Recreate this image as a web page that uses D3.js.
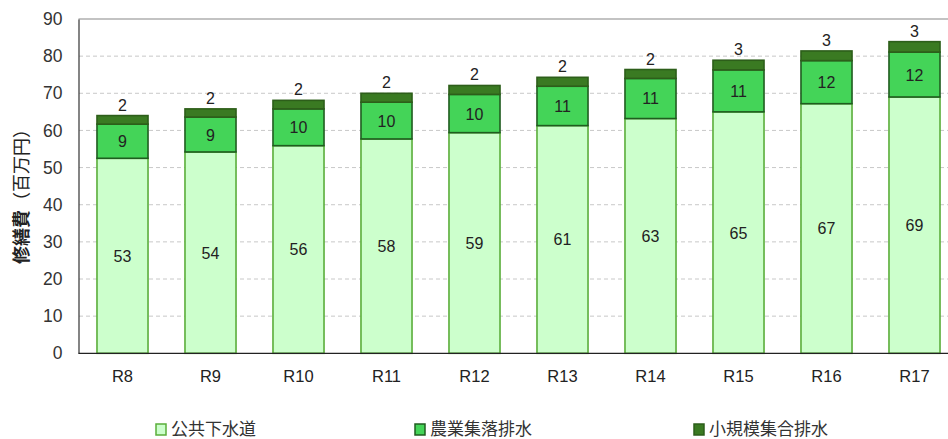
<!DOCTYPE html>
<html><head><meta charset="utf-8">
<script src="https://cdn.jsdelivr.net/npm/d3@7"></script>
<style>body{margin:0;background:#fff;} svg{display:block;font-family:"Liberation Sans",Arial,sans-serif;}</style>
</head><body>
<script>
const categories = ["R8","R9","R10","R11","R12","R13","R14","R15","R16","R17"];
const publicSewer = [52.5,54.2,55.9,57.7,59.4,61.3,63.2,65.0,67.2,69.0];
const ruralDrain = [9.2,9.4,9.9,9.9,10.3,10.6,10.8,11.3,11.6,12.1];
const smallDrain = [2.3,2.2,2.3,2.4,2.4,2.4,2.4,2.6,2.6,2.8];
const seriesNames = ["公共下水道","農業集落排水","小規模集合排水"];
const yTicks = [0,10,20,30,40,50,60,70,80,90];
const fills = ["#ccffcc","#44d458","#3a7a22"];
const strokes = ["#5aae3a","#1f5c1f","#2d5e1a"];

const W=948,H=439;
const svg=d3.select("body").append("svg").attr("width",W).attr("height",H);
const x=d3.scaleBand().domain(categories).range([78.5,958.5]).paddingInner(0.42).paddingOuter(0.21);
const y=d3.scaleLinear().domain([0,90]).range([353.3,19]);

// grid
svg.append("g").selectAll("line").data(yTicks.filter(t=>t>0&&t<90)).join("line")
 .attr("x1",79).attr("x2",W).attr("y1",d=>y(d)).attr("y2",d=>y(d))
 .attr("stroke","#c8c8c8").attr("stroke-dasharray","4,3");
svg.append("line").attr("x1",78.5).attr("x2",W).attr("y1",y(90)).attr("y2",y(90)).attr("stroke","#888").attr("stroke-width",1.2);

const rows=categories.map((c,i)=>({c,vals:[publicSewer[i],ruralDrain[i],smallDrain[i]]}));
const stack=d3.stack().keys([0,1,2]).value((d,k)=>d.vals[k])(rows);

stack.forEach((layer,k)=>{
  svg.append("g").selectAll("rect").data(layer).join("rect")
   .attr("x",d=>x(d.data.c)).attr("width",x.bandwidth())
   .attr("y",d=>y(d[1])).attr("height",d=>y(d[0])-y(d[1]))
   .attr("fill",fills[k]).attr("stroke",strokes[k]).attr("stroke-width",1.6);
});
// labels
stack.forEach((layer,k)=>{
  svg.append("g").selectAll("text").data(layer).join("text")
   .attr("x",d=>x(d.data.c)+x.bandwidth()/2)
   .attr("y",d=> k<2 ? (y(d[0])+y(d[1]))/2+6 : y(d[1])-5)
   .attr("text-anchor","middle").attr("font-size",16).attr("fill","#222")
   .text(d=>Math.round(d[1]-d[0]));
});

// axes
const ya=svg.append("g").attr("transform","translate(78.5,0)")
 .call(d3.axisLeft(y).tickValues(yTicks).tickSize(0).tickPadding(16));
ya.select(".domain").attr("stroke","#333").attr("stroke-width",1.2);
ya.selectAll("text").attr("font-size",17.5).attr("fill","#333").attr("font-family","'Liberation Sans',Arial,sans-serif");
const xa=svg.append("g").attr("transform","translate(0,353.3)")
 .call(d3.axisBottom(x).tickSize(0).tickPadding(17));
xa.select(".domain").attr("stroke","#222").attr("stroke-width",1.3).attr("d","M78.5,0H"+W);
xa.selectAll("text").attr("font-size",16.5).attr("fill","#222").attr("font-family","'Liberation Sans Narrow','Liberation Sans',Arial,sans-serif");

// y title
const yt=svg.append("text").attr("transform","translate(28,192) rotate(-90)").attr("text-anchor","middle")
 .attr("font-size",18).attr("fill","#222").attr("font-family","'Noto Sans CJK JP',sans-serif");
yt.append("tspan").attr("font-weight","bold").text("修繕費");
yt.append("tspan").text("（百万円）");

// legend
const lx=[156,415,694];
seriesNames.forEach((n,k)=>{
  const g=svg.append("g").attr("transform",`translate(${lx[k]},429)`);
  g.append("rect").attr("x",0).attr("y",-5).attr("width",10).attr("height",11)
   .attr("fill",fills[k]).attr("stroke",strokes[k]).attr("stroke-width",1.5);
  g.append("text").attr("x",15).attr("y",6).attr("font-size",17).attr("fill","#333")
   .attr("font-family","'Noto Sans CJK JP',sans-serif").text(n);
});
</script>
</body></html>
